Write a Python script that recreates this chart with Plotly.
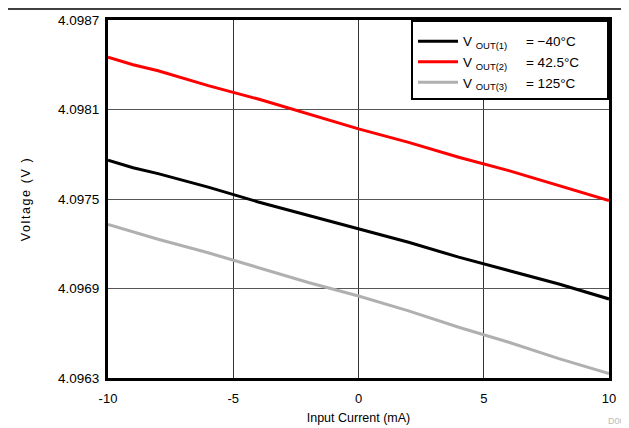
import plotly.graph_objects as go

current = [-10, -9, -8, -6, -4, -2, 0, 2, 4, 6, 8, 10]
vout_m40 = [4.09776, 4.09771, 4.09767, 4.09758, 4.09748, 4.09739, 4.09730, 4.09721, 4.09711, 4.09702, 4.09693, 4.09683]
vout_42 = [4.09845, 4.09840, 4.09836, 4.09826, 4.09817, 4.09807, 4.09797, 4.09788, 4.09778, 4.09769, 4.09759, 4.09749]
vout_125 = [4.09733, 4.09728, 4.09723, 4.09714, 4.09704, 4.09694, 4.09685, 4.09675, 4.09664, 4.09654, 4.09643, 4.09633]

y_ticks = [4.0963, 4.0969, 4.0975, 4.0981, 4.0987]
x_ticks = [-10, -5, 0, 5, 10]
x_labels = ["-10", "-5", "0", "5", "10"]

nb = "\u00a0"
names = [
    f"V{nb}<sub>OUT(1)</sub>{nb*5}= \u221240\u00b0C{nb*6}",
    f"V{nb}<sub>OUT(2)</sub>{nb*5}= 42.5\u00b0C{nb*6}",
    f"V{nb}<sub>OUT(3)</sub>{nb*5}= 125\u00b0C{nb*6}",
]
series = [vout_m40, vout_42, vout_125]
colors = ["#000000", "#ff0000", "#b0b0b0"]

fig = go.Figure()
for name, ys, c in zip(names, series, colors):
    fig.add_trace(go.Scatter(x=current, y=ys, mode="lines", name=name,
                             line=dict(color=c, width=3)))

# the page body has an 8px margin, so the figure is drawn 8px smaller
fig.update_layout(
    width=621, height=420,
    margin=dict(l=100, r=20, t=12, b=50),
    paper_bgcolor="white", plot_bgcolor="white",
    font=dict(family="Liberation Sans, Arial", size=13, color="#000"),
    showlegend=True,
    legend=dict(x=1, y=1, xanchor="right", yanchor="top",
                bordercolor="#000", borderwidth=2, bgcolor="white",
                font=dict(size=13.5), itemwidth=40, tracegroupgap=0,
                title=dict(text=nb, font=dict(size=3))),
    xaxis=dict(range=[-10, 10], tickvals=x_ticks, ticktext=x_labels, ticks="",
               showgrid=True, gridcolor="#333", gridwidth=1, showline=True,
               linecolor="#000", linewidth=3, mirror=True, zeroline=False,
               automargin=False, ticklabelstandoff=6,
               title=dict(text="Input Current (mA)", standoff=9,
                          font=dict(size=12.5))),
    yaxis=dict(range=[4.0963, 4.0987], tickvals=y_ticks, tickformat=".4f",
               ticks="", showgrid=True, gridcolor="#555", gridwidth=1,
               showline=True, linecolor="#000", linewidth=3, mirror=True,
               zeroline=False, automargin=False, ticklabelstandoff=3,
               tickfont=dict(size=13.5),
               title=dict(text='<span style="letter-spacing:1.6px">Voltage (V )</span>',
                          standoff=25, font=dict(size=12.5))),
)

fig.add_shape(type="line", xref="paper", yref="paper", x0=-0.3, x1=1.1,
              y0=1.031, y1=1.031, line=dict(color="#000", width=1.5))
fig.add_annotation(text="D001", xref="paper", yref="paper", x=1.045, y=-0.14,
                   xanchor="right", yanchor="bottom", showarrow=False,
                   font=dict(size=9, color="#bbb"))

fig.write_html("out.html")
